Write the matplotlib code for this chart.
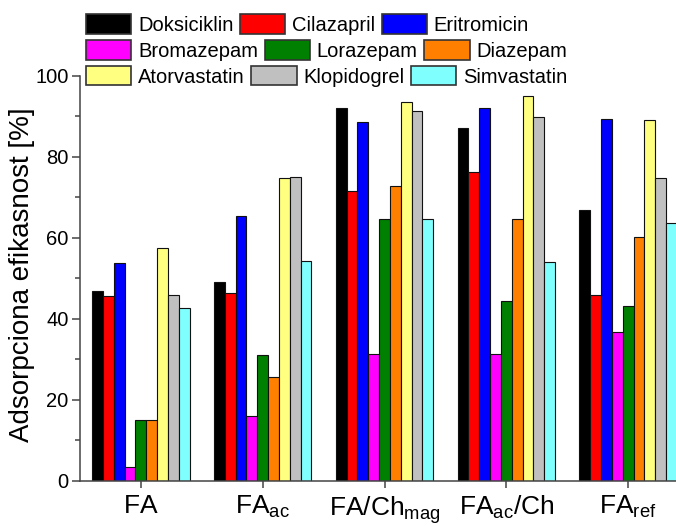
import numpy as np
import matplotlib
matplotlib.use("Agg")
import matplotlib.pyplot as plt
from matplotlib.patches import Patch

plt.rcParams['font.family'] = ['Liberation Sans', 'DejaVu Sans']
plt.rcParams['mathtext.fontset'] = 'custom'
plt.rcParams['mathtext.rm'] = 'Liberation Sans'

# Sorbent materials (x groups)
categories = [r'$\mathregular{FA}$', r'$\mathregular{FA_{ac}}$',
              r'$\mathregular{FA/Ch_{mag}}$', r'$\mathregular{FA_{ac}/Ch}$',
              r'$\mathregular{FA_{ref}}$']

# Adsorption efficiency [%] per drug
drugs = ['Doksiciklin', 'Cilazapril', 'Eritromicin',
         'Bromazepam', 'Lorazepam', 'Diazepam',
         'Atorvastatin', 'Klopidogrel', 'Simvastatin']
doksiciklin = [47.0, 49.0, 92.0, 87.1, 66.9]
cilazapril = [45.7, 46.3, 71.5, 76.2, 45.9]
eritromicin = [53.7, 65.5, 88.5, 92.0, 89.3]
bromazepam = [3.5, 16.0, 31.3, 31.3, 36.7]
lorazepam = [15.1, 31.2, 64.6, 44.5, 43.2]
diazepam = [15.1, 25.7, 72.9, 64.6, 60.3]
atorvastatin = [57.4, 74.8, 93.6, 95.0, 89.1]
klopidogrel = [46.0, 75.0, 91.4, 89.7, 74.8]
simvastatin = [42.6, 54.4, 64.6, 54.0, 63.6]
series = [doksiciklin, cilazapril, eritromicin, bromazepam, lorazepam,
          diazepam, atorvastatin, klopidogrel, simvastatin]

colors = ['#000000', '#FF0000', '#0000FF', '#FF00FF', '#008000',
          '#FF8000', '#FFFF80', '#C0C0C0', '#80FFFF']

fig = plt.figure(figsize=(6.76, 5.26), dpi=100)
ax = fig.add_axes([80 / 676, 45 / 526, 609 / 676, 405.3 / 526])

x = np.arange(len(categories))
n = len(series)
w = 0.0887
for i, (vals, col) in enumerate(zip(series, colors)):
    ax.bar(x + (i - (n - 1) / 2) * w, vals, width=w, color=col,
           edgecolor='#111111', linewidth=0.8, zorder=2)

ax.set_xlim(-0.5, 4.5)
ax.set_ylim(0, 100)
ax.set_xticks(x)
ax.set_xticklabels(categories, fontsize=19)
ax.set_yticks(np.arange(0, 101, 20))
ax.set_yticks(np.arange(0, 101, 10), minor=True)
ax.tick_params(axis='y', which='major', labelsize=14.5, length=5.8,
               width=1.1, color='#444444', pad=2.5)
ax.tick_params(axis='y', which='minor', length=3.6, width=1.1, color='#444444')
ax.tick_params(axis='x', which='major', length=5, width=1.1,
               color='#444444', pad=4.5)
ax.tick_params(axis='x', which='minor', bottom=False)

for side in ('top', 'right'):
    ax.spines[side].set_visible(False)
for side in ('left', 'bottom'):
    ax.spines[side].set_color('#444444')
    ax.spines[side].set_linewidth(1.1)

ax.set_ylabel('Adsorpciona efikasnost [%]', fontsize=20)
ax.yaxis.set_label_coords(-0.074, 0.51)

# Legend: three rows, each laid out on its own
handles = [Patch(facecolor=c, edgecolor='#333333', linewidth=1.2) for c in colors]
row_y = [24.7, 50.5, 76.2]
for r in range(3):
    leg = fig.legend(handles=handles[3 * r:3 * r + 3],
                     labels=drugs[3 * r:3 * r + 3],
                     ncol=3, loc='center left',
                     bbox_to_anchor=(86 / 676, 1 - row_y[r] / 526),
                     frameon=False, borderpad=0, borderaxespad=0,
                     handlelength=2.25, handleheight=1.12,
                     handletextpad=0.33, columnspacing=0.33,
                     fontsize=14.5)

fig.savefig('out.png', dpi=100)
